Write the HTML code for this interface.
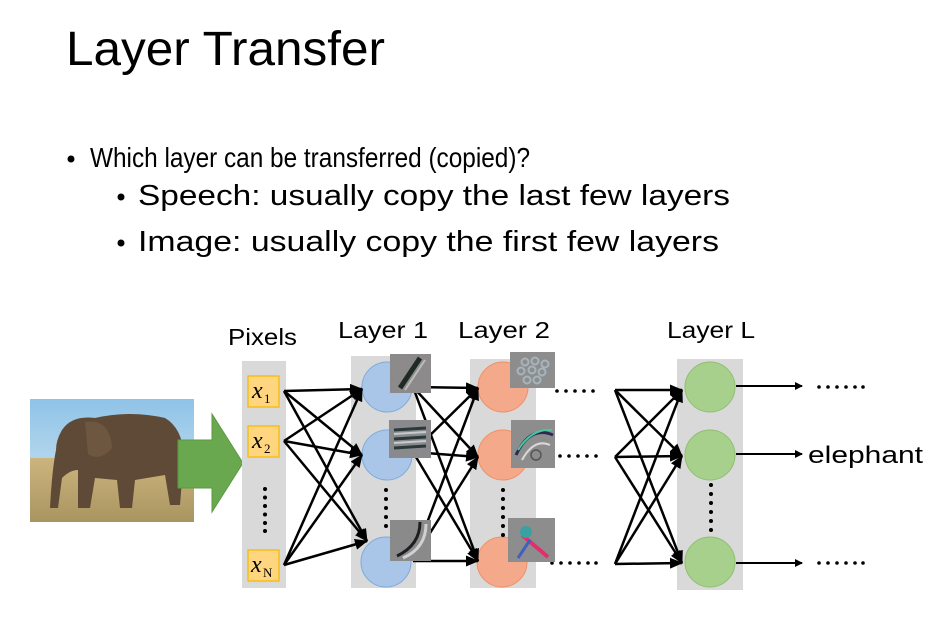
<!DOCTYPE html>
<html><head><meta charset="utf-8"><style>
html,body{margin:0;padding:0;background:#fff;}
svg{display:block;}
.t{font-family:"Liberation Sans",sans-serif;fill:#000;}
.s{font-family:"Liberation Serif",serif;fill:#000;}
</style></head><body>
<svg width="940" height="628" viewBox="0 0 940 628" xmlns="http://www.w3.org/2000/svg">
<defs>
<marker id="ah" markerWidth="8" markerHeight="8" refX="7" refY="4" orient="auto" markerUnits="userSpaceOnUse">
<path d="M0,0 L8,4 L0,8 z" fill="#000"/></marker>
<marker id="ah2" markerWidth="13" markerHeight="11" refX="12" refY="5.5" orient="auto" markerUnits="userSpaceOnUse">
<path d="M0,0 L13,5.5 L0,11 z" fill="#000"/></marker>
<linearGradient id="sky" x1="0" y1="0" x2="0" y2="1"><stop offset="0" stop-color="#8fc3e8"/><stop offset="1" stop-color="#d7e8f0"/></linearGradient>
<linearGradient id="grass" x1="0" y1="0" x2="0" y2="1"><stop offset="0" stop-color="#cdb47e"/><stop offset="1" stop-color="#a99560"/></linearGradient>
</defs>

<text class="t" x="66" y="65" font-size="48" textLength="319" lengthAdjust="spacingAndGlyphs">Layer Transfer</text>
<circle cx="71" cy="159" r="3.5" fill="#000"/>
<text class="t" x="90" y="167" font-size="28" textLength="440" lengthAdjust="spacingAndGlyphs">Which layer can be transferred (copied)?</text>
<circle cx="121" cy="197" r="3.5" fill="#000"/>
<text class="t" x="138" y="205" font-size="29" textLength="592" lengthAdjust="spacingAndGlyphs">Speech: usually copy the last few layers</text>
<circle cx="121" cy="243" r="3.5" fill="#000"/>
<text class="t" x="138" y="251" font-size="29" textLength="581" lengthAdjust="spacingAndGlyphs">Image: usually copy the first few layers</text>

<text class="t" x="228" y="345" font-size="23" textLength="69" lengthAdjust="spacingAndGlyphs">Pixels</text>
<text class="t" x="338" y="338" font-size="23" textLength="90" lengthAdjust="spacingAndGlyphs">Layer 1</text>
<text class="t" x="458" y="338" font-size="23" textLength="92" lengthAdjust="spacingAndGlyphs">Layer 2</text>
<text class="t" x="667" y="338" font-size="23" textLength="88" lengthAdjust="spacingAndGlyphs">Layer L</text>

<!-- elephant photo -->
<rect x="30" y="399" width="164" height="123" fill="url(#sky)"/>
<rect x="30" y="458" width="164" height="64" fill="url(#grass)"/>
<path d="M62,430 Q72,415 95,418 Q130,410 165,418 Q182,428 184,455 L180,505 L170,505 L165,475 L135,480 L132,508 L120,508 L117,480 L95,478 L90,508 L78,508 L78,470 Q70,470 62,478 L58,508 L50,508 Q52,470 56,450 Q56,440 62,430 Z" fill="#5e4a36"/>
<path d="M85,422 Q110,418 112,448 Q100,462 88,454 Z" fill="#6d5741"/>

<!-- green arrow -->
<polygon points="178,440 212,440 212,414 243,463 212,512 212,488 178,488" fill="#6aa84f" stroke="#5a9a40" stroke-width="1"/>

<!-- gray columns -->
<rect x="242" y="361" width="44" height="227" fill="#d9d9d9"/>
<rect x="351" y="356" width="65" height="232" fill="#d9d9d9"/>
<rect x="470" y="359" width="66" height="229" fill="#d9d9d9"/>
<rect x="677" y="359" width="66" height="231" fill="#d9d9d9"/>

<!-- pixel boxes -->
<g fill="#ffd67f" stroke="#f5b800" stroke-width="1.2">
<rect x="248" y="376" width="31" height="31"/>
<rect x="248" y="426" width="31" height="31"/>
<rect x="248" y="550" width="31" height="31"/>
</g>
<text class="s" x="252" y="398" font-size="24" font-style="italic">x</text><text class="s" x="264" y="403" font-size="13">1</text>
<text class="s" x="252" y="448" font-size="24" font-style="italic">x</text><text class="s" x="264" y="453" font-size="13">2</text>
<text class="s" x="251" y="572" font-size="24" font-style="italic">x</text><text class="s" x="263" y="577" font-size="13">N</text>
<g fill="#000">
<circle cx="265" cy="489" r="2"/><circle cx="265" cy="497.5" r="2"/><circle cx="265" cy="506" r="2"/><circle cx="265" cy="514.5" r="2"/><circle cx="265" cy="523" r="2"/><circle cx="265" cy="531" r="2"/>
</g>

<!-- circles -->
<g fill="#a9c6e8" stroke="#7fa9d9" stroke-width="1">
<circle cx="387" cy="387" r="25"/><circle cx="387" cy="455" r="25"/><circle cx="386" cy="562" r="25"/>
</g>
<g fill="#f4a98a" stroke="#ee9068" stroke-width="1">
<circle cx="503" cy="387" r="25"/><circle cx="503" cy="455" r="25"/><circle cx="502" cy="562" r="25"/>
</g>
<g fill="#a8d08d" stroke="#8fbf70" stroke-width="1">
<circle cx="710" cy="387" r="25"/><circle cx="710" cy="455" r="25"/><circle cx="710" cy="562" r="25"/>
</g>
<g fill="#000">
<circle cx="386" cy="490" r="2"/><circle cx="386" cy="499" r="2"/><circle cx="386" cy="508" r="2"/><circle cx="386" cy="517" r="2"/><circle cx="386" cy="526" r="2"/>
<circle cx="503" cy="490" r="2"/><circle cx="503" cy="499" r="2"/><circle cx="503" cy="508" r="2"/><circle cx="503" cy="517" r="2"/><circle cx="503" cy="526" r="2"/><circle cx="503" cy="535" r="2"/>
<circle cx="711" cy="485" r="2"/><circle cx="711" cy="494" r="2"/><circle cx="711" cy="503" r="2"/><circle cx="711" cy="512" r="2"/><circle cx="711" cy="521" r="2"/><circle cx="711" cy="530" r="2"/>
</g>

<!-- edges pixels -> layer1 -->
<g stroke="#000" stroke-width="2.5" marker-end="url(#ah2)">
<line x1="284" y1="391" x2="362" y2="389"/>
<line x1="284" y1="391" x2="362" y2="455"/>
<line x1="284" y1="391" x2="367" y2="541"/>
<line x1="284" y1="441" x2="362" y2="389"/>
<line x1="284" y1="441" x2="362" y2="455"/>
<line x1="284" y1="441" x2="367" y2="541"/>
<line x1="284" y1="565" x2="362" y2="389"/>
<line x1="284" y1="565" x2="362" y2="455"/>
<line x1="284" y1="565" x2="367" y2="541"/>
</g>
<!-- layer1 -> layer2 -->
<g stroke="#000" stroke-width="2.5" marker-end="url(#ah2)">
<line x1="413" y1="387" x2="478" y2="388"/>
<line x1="413" y1="387" x2="478" y2="457"/>
<line x1="413" y1="387" x2="478" y2="561"/>
<line x1="413" y1="452" x2="478" y2="388"/>
<line x1="413" y1="452" x2="478" y2="457"/>
<line x1="413" y1="452" x2="478" y2="561"/>
<line x1="413" y1="560" x2="478" y2="388"/>
<line x1="413" y1="560" x2="478" y2="457"/>
<line x1="413" y1="561" x2="478" y2="561"/>
</g>
<!-- -> layer L -->
<g stroke="#000" stroke-width="2.5" marker-end="url(#ah2)">
<line x1="615" y1="390" x2="682" y2="390"/>
<line x1="615" y1="390" x2="682" y2="456"/>
<line x1="615" y1="390" x2="682" y2="563"/>
<line x1="615" y1="457" x2="682" y2="390"/>
<line x1="615" y1="457" x2="682" y2="456"/>
<line x1="615" y1="457" x2="682" y2="563"/>
<line x1="615" y1="564" x2="682" y2="390"/>
<line x1="615" y1="564" x2="682" y2="456"/>
<line x1="615" y1="564" x2="682" y2="563"/>
</g>
<!-- outputs -->
<g stroke="#000" stroke-width="2" marker-end="url(#ah)">
<line x1="736" y1="386" x2="802" y2="386"/>
<line x1="736" y1="454" x2="802" y2="454"/>
<line x1="736" y1="563" x2="802" y2="563"/>
</g>
<text class="t" x="808" y="463" font-size="24" textLength="115" lengthAdjust="spacingAndGlyphs">elephant</text>

<!-- dot rows -->
<g fill="#000">
<circle cx="557" cy="391" r="1.8"/><circle cx="566" cy="391" r="1.8"/><circle cx="575" cy="391" r="1.8"/><circle cx="584" cy="391" r="1.8"/><circle cx="593" cy="391" r="1.8"/>
<circle cx="560" cy="456" r="1.8"/><circle cx="569" cy="456" r="1.8"/><circle cx="578" cy="456" r="1.8"/><circle cx="587" cy="456" r="1.8"/><circle cx="596" cy="456" r="1.8"/>
<circle cx="552" cy="563" r="1.8"/><circle cx="561" cy="563" r="1.8"/><circle cx="570" cy="563" r="1.8"/><circle cx="579" cy="563" r="1.8"/><circle cx="588" cy="563" r="1.8"/><circle cx="596" cy="563" r="1.8"/>
<circle cx="819" cy="387" r="1.8"/><circle cx="828" cy="387" r="1.8"/><circle cx="837" cy="387" r="1.8"/><circle cx="846" cy="387" r="1.8"/><circle cx="855" cy="387" r="1.8"/><circle cx="863" cy="387" r="1.8"/>
<circle cx="819" cy="563" r="1.8"/><circle cx="828" cy="563" r="1.8"/><circle cx="837" cy="563" r="1.8"/><circle cx="846" cy="563" r="1.8"/><circle cx="855" cy="563" r="1.8"/><circle cx="863" cy="563" r="1.8"/>
</g>

<!-- filter images -->
<g>
<rect x="390" y="354" width="41" height="39" fill="#8c8a8a"/>
<path d="M400,388 L420,358" stroke="#1f2a25" stroke-width="5"/>
<path d="M405,390 L425,360" stroke="#bcbcbc" stroke-width="2"/>
<rect x="389" y="420" width="42" height="38" fill="#8a8a8c"/>
<g stroke="#2a3a3a" stroke-width="3"><line x1="394" y1="430" x2="426" y2="428"/><line x1="394" y1="439" x2="426" y2="437"/><line x1="394" y1="448" x2="426" y2="446"/></g>
<g stroke="#c8c8d0" stroke-width="2"><line x1="394" y1="434" x2="426" y2="432"/><line x1="394" y1="443" x2="426" y2="441"/></g>
<rect x="390" y="520" width="41" height="41" fill="#8a8a8a"/>
<path d="M397,556 Q420,545 420,522" stroke="#1e1e22" stroke-width="3" fill="none"/>
<path d="M403,558 Q426,548 426,524" stroke="#d0d0d0" stroke-width="3" fill="none"/>

<rect x="510" y="352" width="45" height="36" fill="#8d8d8d"/>
<g fill="none" stroke="#a6b4bd" stroke-width="2">
<circle cx="525" cy="362" r="3.5"/><circle cx="535" cy="361" r="3.5"/><circle cx="545" cy="364" r="3.5"/><circle cx="521" cy="371" r="3.5"/><circle cx="532" cy="370" r="3.5"/><circle cx="542" cy="372" r="3.5"/><circle cx="527" cy="380" r="3.5"/><circle cx="537" cy="380" r="3.5"/>
</g>
<rect x="511" y="420" width="44" height="48" fill="#8d8d8d"/>
<path d="M516,455 Q530,425 553,435" stroke="#2a2a55" stroke-width="3" fill="none"/>
<path d="M518,450 Q532,428 552,430" stroke="#48c8a0" stroke-width="2" fill="none"/>
<path d="M522,460 Q534,438 550,445" stroke="#d8d8d8" stroke-width="2" fill="none"/>
<circle cx="536" cy="455" r="5" fill="none" stroke="#555" stroke-width="1.5"/>
<rect x="508" y="518" width="47" height="44" fill="#8d8d8d"/>
<line x1="522" y1="535" x2="548" y2="557" stroke="#e0306a" stroke-width="4"/>
<circle cx="526" cy="532" r="6" fill="#3aa0a0"/>
<line x1="518" y1="558" x2="530" y2="540" stroke="#4060c0" stroke-width="3"/>
</g>
</svg>
</body></html>
